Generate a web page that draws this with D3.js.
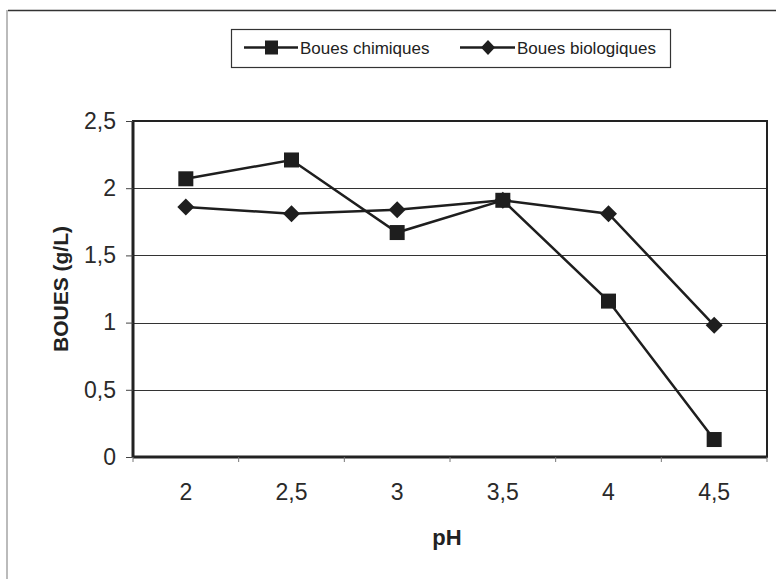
<!DOCTYPE html>
<html><head><meta charset="utf-8">
<script src="https://cdn.jsdelivr.net/npm/d3@7/dist/d3.min.js"></script>
<style>
html,body{margin:0;padding:0;background:#fff;}
svg{display:block;font-family:Arial,"Liberation Sans",sans-serif;}
</style></head>
<body><svg id="c" width="776" height="579"></svg>
<script>
const categories = ["2","2,5","3","3,5","4","4,5"];
const chimiques = [2.07, 2.21, 1.67, 1.91, 1.16, 0.13];
const biologiques = [1.86, 1.81, 1.84, 1.91, 1.81, 0.98];
const yTicks = [0, 0.5, 1, 1.5, 2, 2.5];
const yTickLabels = ["0","0,5","1","1,5","2","2,5"];
const seriesNames = ["Boues chimiques","Boues biologiques"];
const xTitle = "pH";
const yTitle = "BOUES (g/L)";

const svg = d3.select("#c");
const ink = "#1e1e1e";
const L = 133, R = 767, T = 121, B = 457;

// outer frame
svg.append("line").attr("x1",7).attr("x2",7).attr("y1",10).attr("y2",579).attr("stroke","#bbb").attr("stroke-width",2);
svg.append("line").attr("x1",8).attr("x2",776).attr("y1",10.5).attr("y2",10.5).attr("stroke","#333").attr("stroke-width",1.5);

const x = d3.scaleBand().domain(categories).range([L,R]);
const y = d3.scaleLinear().domain([0,2.5]).range([B,T]);

// gridlines
svg.append("g").selectAll("line").data(yTicks.filter(v=>v>0 && v<2.5)).join("line")
  .attr("x1",L).attr("x2",R).attr("y1",d=>Math.round(y(d))+0.5).attr("y2",d=>Math.round(y(d))+0.5)
  .attr("stroke","#333").attr("stroke-width",1.2);

// plot border
svg.append("rect").attr("x",L).attr("y",T).attr("width",R-L).attr("height",B-T)
  .attr("fill","none").attr("stroke","#222").attr("stroke-width",2);
svg.append("line").attr("x1",L).attr("x2",L).attr("y1",T).attr("y2",B).attr("stroke","#222").attr("stroke-width",3);
svg.append("line").attr("x1",L).attr("x2",R).attr("y1",B).attr("y2",B).attr("stroke","#222").attr("stroke-width",3);

// y axis
const yAxis = d3.axisLeft(y).tickValues(yTicks).tickFormat((d,i)=>yTickLabels[i]).tickSize(7).tickPadding(10);
const gy = svg.append("g").attr("transform",`translate(${L},0)`).call(yAxis);
gy.select(".domain").remove();
gy.selectAll("line").attr("stroke","#444");
gy.selectAll("text").attr("font-size",23).attr("fill","#2a2a2a").attr("font-family","Arial,'Liberation Sans',sans-serif");

// x axis ticks at band edges
const edges = categories.map(c=>x(c)).concat([R]);
svg.append("g").selectAll("line").data(edges).join("line")
  .attr("x1",d=>d).attr("x2",d=>d).attr("y1",B).attr("y2",B+5).attr("stroke","#777").attr("stroke-width",1);
svg.append("g").selectAll("text").data(categories).join("text")
  .attr("x",d=>x(d)+x.bandwidth()/2).attr("y",500)
  .attr("text-anchor","middle").attr("font-size",23).attr("fill","#2a2a2a").text(d=>d);

// axis titles
svg.append("text").attr("x",447).attr("y",545).attr("text-anchor","middle")
  .attr("font-size",22).attr("font-weight","bold").attr("fill","#222").text(xTitle);
svg.append("text").attr("transform",`translate(68,${(T+B)/2}) rotate(-90)`).attr("text-anchor","middle")
  .attr("font-size",21).attr("font-weight","bold").attr("fill","#222").text(yTitle);

// series
const cx = d=>x(d)+x.bandwidth()/2;
const line = d3.line().x((d,i)=>cx(categories[i])).y(d=>y(d));
svg.append("path").datum(chimiques).attr("d",line).attr("fill","none").attr("stroke",ink).attr("stroke-width",2.5);
svg.append("path").datum(biologiques).attr("d",line).attr("fill","none").attr("stroke",ink).attr("stroke-width",2.5);

const sq = 15;
svg.append("g").selectAll("rect").data(chimiques).join("rect")
  .attr("x",(d,i)=>cx(categories[i])-sq/2).attr("y",d=>y(d)-sq/2).attr("width",sq).attr("height",sq).attr("fill",ink);
const dm = 8.5;
svg.append("g").selectAll("path").data(biologiques).join("path")
  .attr("d",(d,i)=>{const px=cx(categories[i]),py=y(d);return `M${px},${py-dm}L${px+dm},${py}L${px},${py+dm}L${px-dm},${py}Z`;})
  .attr("fill",ink);

// legend
const lg = svg.append("g");
lg.append("rect").attr("x",231.5).attr("y",29.5).attr("width",439).attr("height",38).attr("fill","#fff").attr("stroke","#333").attr("stroke-width",1.2);
const ly = 47.5;
lg.append("line").attr("x1",244).attr("x2",298).attr("y1",ly).attr("y2",ly).attr("stroke",ink).attr("stroke-width",2.5);
lg.append("rect").attr("x",265).attr("y",ly-7).attr("width",13).attr("height",14).attr("fill",ink);
lg.append("text").attr("x",300).attr("y",ly+6).attr("font-size",17).attr("fill","#222").text(seriesNames[0]);
lg.append("line").attr("x1",460).attr("x2",515).attr("y1",ly).attr("y2",ly).attr("stroke",ink).attr("stroke-width",2.5);
lg.append("path").attr("d",`M488,${ly-7.5}L495,${ly}L488,${ly+7.5}L481,${ly}Z`).attr("fill",ink);
lg.append("text").attr("x",517).attr("y",ly+6).attr("font-size",17).attr("fill","#222").text(seriesNames[1]);
</script></body></html>
